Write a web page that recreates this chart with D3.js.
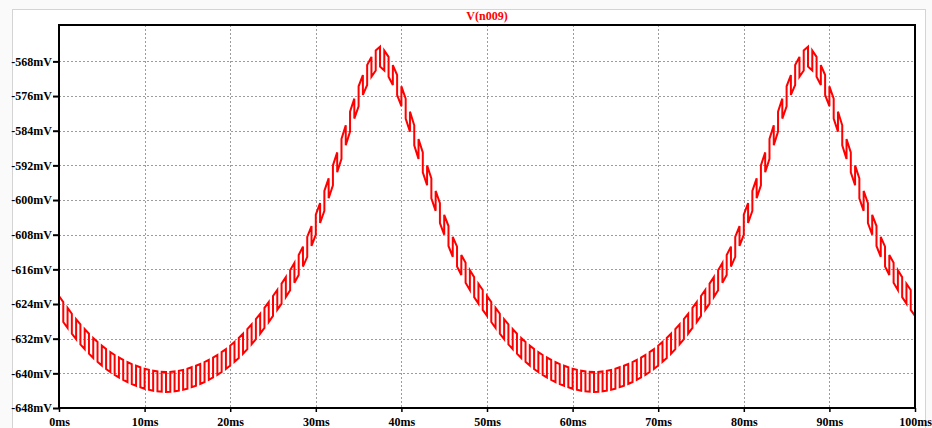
<!DOCTYPE html>
<html>
<head>
<meta charset="utf-8">
<script src="https://cdn.jsdelivr.net/npm/d3@7"></script>
<style>
  html, body { margin: 0; padding: 0; background: #fafafa; }
  svg { display: block; }
  text { font-family: "Liberation Serif", "Times New Roman", serif; font-weight: bold; }
</style>
</head>
<body>
<svg id="chart" width="932" height="428"></svg>
<script>
// ---- data -------------------------------------------------------------
const traceName = "V(n009)";
const sampleStepMs = 0.5;          // midline sampled every half millisecond
const rippleMv = 4.6;              // peak-to-peak PWM ripple on the node
// midline of V(n009) in mV, t = 0 .. 100 ms
const midlineMv = [
  -624.45, -625.85, -627.2, -628.55, -629.8, -631.0, -632.1, -633.15, -634.15, -635.05,
  -635.9, -636.7, -637.4, -638.05, -638.65, -639.2, -639.7, -640.15, -640.55, -640.9,
  -641.25, -641.5, -641.7, -641.85, -641.95, -642.0,
  -641.95, -641.85, -641.7, -641.5, -641.25, -640.9, -640.55, -640.15, -639.7, -639.2,
  -638.65, -638.05, -637.4, -636.7, -635.9, -635.05, -634.15, -633.15, -632.1, -631.0,
  -629.8, -628.55, -627.2, -625.85, -624.45, -623.05, -621.6, -620.1, -618.5, -616.8,
  -615.0, -613.05, -610.8, -608.3, -605.7, -603.0, -600.2, -597.3, -594.3, -591.3,
  -588.2, -585.05, -581.9, -578.9, -576.05, -573.45, -571.15, -569.25, -567.8, -566.9,
  -567.8, -569.25, -571.15, -573.45, -576.05, -578.9, -581.9, -585.05, -588.2, -591.3,
  -594.3, -597.3, -600.2, -603.0, -605.7, -608.3, -610.8, -613.05, -615.0, -616.8,
  -618.5, -620.1, -621.6, -623.05, -624.45, -625.85, -627.2, -628.55, -629.8, -631.0,
  -632.1, -633.15, -634.15, -635.05, -635.9, -636.7, -637.4, -638.05, -638.65, -639.2,
  -639.7, -640.15, -640.55, -640.9, -641.25, -641.5, -641.7, -641.85, -641.95, -642.0,
  -641.95, -641.85, -641.7, -641.5, -641.25, -640.9, -640.55, -640.15, -639.7, -639.2,
  -638.65, -638.05, -637.4, -636.7, -635.9, -635.05, -634.15, -633.15, -632.1, -631.0,
  -629.8, -628.55, -627.2, -625.85, -624.45, -623.05, -621.6, -620.1, -618.5, -616.8,
  -615.0, -613.05, -610.8, -608.3, -605.7, -603.0, -600.2, -597.3, -594.3, -591.3,
  -588.2, -585.05, -581.9, -578.9, -576.05, -573.45, -571.15, -569.25, -567.8, -566.9,
  -567.8, -569.25, -571.15, -573.45, -576.05, -578.9, -581.9, -585.05, -588.2, -591.3,
  -594.3, -597.3, -600.2, -603.0, -605.7, -608.3, -610.8, -613.05, -615.0, -616.8,
  -618.5, -620.1, -621.6, -623.05, -624.45
];
const xTicksMs = [0, 10, 20, 30, 40, 50, 60, 70, 80, 90, 100];
const yTicksMv = [-568, -576, -584, -592, -600, -608, -616, -624, -632, -640, -648];
const xDomain = [0, 100];
const yDomain = [-648, -559.6];

// ---- layout ------------------------------------------------------------
const svg = d3.select("#chart");
const plot = { left: 59, right: 915, top: 25, bottom: 408 };

const x = d3.scaleLinear().domain(xDomain).range([plot.left, plot.right]);
const y = d3.scaleLinear().domain(yDomain).range([plot.bottom, plot.top]);

// window panel
svg.append("rect")
  .attr("x", 12.5).attr("y", 9.5).attr("width", 913).attr("height", 440)
  .attr("fill", "#ffffff").attr("stroke", "#d4d4d4").attr("stroke-width", 1);

// grid
const grid = svg.append("g").attr("stroke", "#9c9c9c").attr("stroke-width", 1)
  .attr("stroke-dasharray", "2,2");
grid.selectAll("line.v").data(xTicksMs.filter(t => t > xDomain[0] && t < xDomain[1]))
  .join("line").attr("class", "v")
  .attr("x1", d => Math.round(x(d)) + 0.5).attr("x2", d => Math.round(x(d)) + 0.5)
  .attr("y1", plot.top).attr("y2", plot.bottom);
grid.selectAll("line.h").data(yTicksMv.filter(v => v > yDomain[0] && v < yDomain[1]))
  .join("line").attr("class", "h")
  .attr("y1", d => Math.round(y(d)) + 0.5).attr("y2", d => Math.round(y(d)) + 0.5)
  .attr("x1", plot.left).attr("x2", plot.right);

// trace: midline with square PWM ripple, high during first half of each ms
const pts = [];
const half = rippleMv / 2;
for (let i = 0; i < midlineMv.length - 1; i++) {
  const t0 = i * sampleStepMs, t1 = (i + 1) * sampleStepMs;
  const s = (i % 2 === 0) ? 1 : -1;
  pts.push([t0, midlineMv[i] + s * half]);
  pts.push([t1, midlineMv[i + 1] + s * half]);
  if (i < midlineMv.length - 2) pts.push([t1, midlineMv[i + 1] - s * half]);
}
const line = d3.line().x(d => x(d[0])).y(d => y(d[1]));
svg.append("path")
  .attr("d", line(pts))
  .attr("fill", "none").attr("stroke", "#ff0000").attr("stroke-width", 2)
  .attr("stroke-linejoin", "miter");

// frame
svg.append("rect")
  .attr("x", plot.left).attr("y", plot.top)
  .attr("width", plot.right - plot.left).attr("height", plot.bottom - plot.top)
  .attr("fill", "none").attr("stroke", "#000").attr("stroke-width", 2);

// y axis
const yAxis = d3.axisLeft(y).tickValues(yTicksMv).tickSize(6).tickPadding(1)
  .tickFormat(d => d + "mV");
const yg = svg.append("g").attr("transform", `translate(${plot.left},0)`).call(yAxis);
yg.select(".domain").remove();
yg.selectAll(".tick line").attr("stroke", "#000").attr("stroke-width", 2);
yg.selectAll(".tick text").attr("fill", "#000").style("font-size", "12px")
  .style("font-family", "'Liberation Serif', serif").style("font-weight", "bold");

// x axis
const xAxis = d3.axisBottom(x).tickValues(xTicksMs).tickSize(4).tickPadding(5)
  .tickFormat(d => d + "ms");
const xg = svg.append("g").attr("transform", `translate(0,${plot.bottom})`).call(xAxis);
xg.select(".domain").remove();
xg.selectAll(".tick line").attr("stroke", "#000").attr("stroke-width", 1.5);
xg.selectAll(".tick text").attr("fill", "#000").style("font-size", "12px")
  .style("font-family", "'Liberation Serif', serif").style("font-weight", "bold");

// title
svg.append("text")
  .attr("x", (plot.left + plot.right) / 2).attr("y", 20)
  .attr("text-anchor", "middle").attr("fill", "#ff0000")
  .style("font-size", "12px").text(traceName);
</script>
</body>
</html>
